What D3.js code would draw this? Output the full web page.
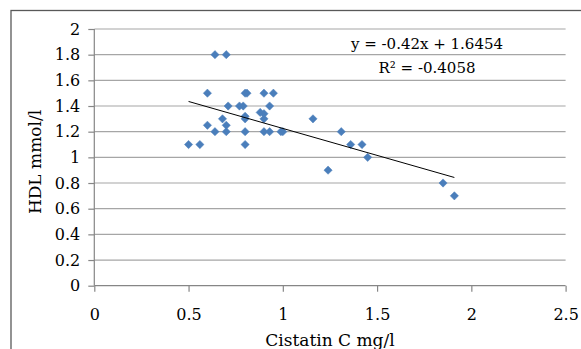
<!DOCTYPE html>
<html>
<head>
<meta charset="utf-8">
<script src="https://cdn.jsdelivr.net/npm/d3@7"></script>
<style>
  html, body { margin: 0; padding: 0; background: #fff; }
  svg { display: block; }
  text { font-family: "DejaVu Serif", serif; fill: #000; }
</style>
</head>
<body>
<div id="chart"></div>
<script>
// cistatin C (mg/l) vs HDL (mmol/l)
const cistatin = [0.50, 0.56, 0.60, 0.60, 0.64, 0.64, 0.68, 0.70, 0.70, 0.70, 0.71, 0.77, 0.79,
  0.80, 0.81, 0.80, 0.80, 0.80, 0.80, 0.88, 0.90, 0.90, 0.90, 0.90, 0.93, 0.93, 0.95, 0.99, 1.00,
  1.16, 1.24, 1.31, 1.36, 1.42, 1.45, 1.85, 1.91]
const hdl = [1.10, 1.10, 1.50, 1.25, 1.80, 1.20, 1.30, 1.80, 1.25, 1.20, 1.40, 1.40, 1.40,
  1.50, 1.50, 1.32, 1.30, 1.20, 1.10, 1.35, 1.34, 1.30, 1.50, 1.20, 1.40, 1.20, 1.50, 1.20, 1.20,
  1.30, 0.90, 1.20, 1.10, 1.10, 1.00, 0.80, 0.70]
const xTicks = [0, 0.5, 1, 1.5, 2, 2.5]
const yTicks = [0, 0.2, 0.4, 0.6, 0.8, 1, 1.2, 1.4, 1.6, 1.8, 2]
const slope = -0.42
const intercept = 1.6454
const eqLines = ["y = -0.42x + 1.6454", "R² = -0.4058"]

const width = 581
const height = 349
const plot = { left: 94.3, right: 565.6, top: 29, bottom: 285.7 }

const svg = d3.select('#chart').append('svg')
  .attr('width', width)
  .attr('height', height)

// chart frame (only top + left are visible in the crop)
svg.append('rect')
  .attr('x', 11).attr('y', 10.5)
  .attr('width', 700).attr('height', 500)
  .attr('fill', 'none')
  .attr('stroke', '#595959')
  .attr('stroke-width', 1.3)

const x = d3.scaleLinear().domain([0, 2.5]).range([plot.left, plot.right])
const y = d3.scaleLinear().domain([0, 2]).range([plot.bottom, plot.top])

// gridlines
svg.append('g')
  .selectAll('line')
  .data(yTicks.slice(1))
  .join('line')
  .attr('x1', plot.left).attr('x2', plot.right)
  .attr('y1', d => y(d)).attr('y2', d => y(d))
  .attr('stroke', '#a6a6a6')
  .attr('stroke-width', 1.2)

const yAxis = svg.append('g')
  .attr('transform', `translate(${plot.left},0)`)
  .call(d3.axisLeft(y).tickValues(yTicks).tickFormat(d3.format('')).tickSize(6).tickPadding(8))
const xAxis = svg.append('g')
  .attr('transform', `translate(0,${plot.bottom})`)
  .call(d3.axisBottom(x).tickValues(xTicks).tickFormat(d3.format('')).tickSize(6).tickPadding(17))

for (const ax of [xAxis, yAxis]) {
  ax.select('.domain').attr('stroke', '#868686').attr('stroke-width', 1.2)
  ax.selectAll('.tick line').attr('stroke', '#868686').attr('stroke-width', 1.2)
  ax.selectAll('.tick text')
    .style('font-family', '"DejaVu Serif", serif')
    .style('font-size', '16px')
    .attr('fill', '#000')
}
// ticks cross the axis a little on the left side
yAxis.selectAll('.tick line').attr('x2', -6).attr('x1', 0)
xAxis.select('.domain').attr('d', `M${plot.left},0H${plot.right}`)
yAxis.select('.domain').attr('d', `M0,${plot.bottom}V${plot.top}`)

// points: rotated squares like excel diamonds
const diamond = d3.symbol().type(d3.symbolSquare).size(34)
svg.append('g')
  .selectAll('path')
  .data(d3.zip(cistatin, hdl))
  .join('path')
  .attr('d', diamond)
  .attr('transform', d => `translate(${x(d[0])},${y(d[1])}) rotate(45)`)
  .attr('fill', '#4a7ebb')
  .attr('stroke', '#4f81bd')
  .attr('stroke-width', 0.5)

// linear trendline
const [xMin, xMax] = d3.extent(cistatin)
svg.append('line')
  .attr('x1', x(xMin)).attr('y1', y(slope * xMin + intercept))
  .attr('x2', x(xMax)).attr('y2', y(slope * xMax + intercept))
  .attr('stroke', '#000')
  .attr('stroke-width', 1)

svg.append('g')
  .selectAll('text')
  .data(eqLines)
  .join('text')
  .attr('x', 427)
  .attr('y', (d, i) => 49 + i * 24)
  .attr('text-anchor', 'middle')
  .style('font-size', '15px')
  .text(d => d)

// axis titles
svg.append('text')
  .attr('x', (plot.left + plot.right) / 2)
  .attr('y', 346)
  .attr('text-anchor', 'middle')
  .style('font-size', '17px')
  .text('Cistatin C mg/l')

svg.append('text')
  .attr('transform', `translate(41,162) rotate(-90)`)
  .attr('text-anchor', 'middle')
  .style('font-size', '17px')
  .text('HDL mmol/l')
</script>
</body>
</html>
